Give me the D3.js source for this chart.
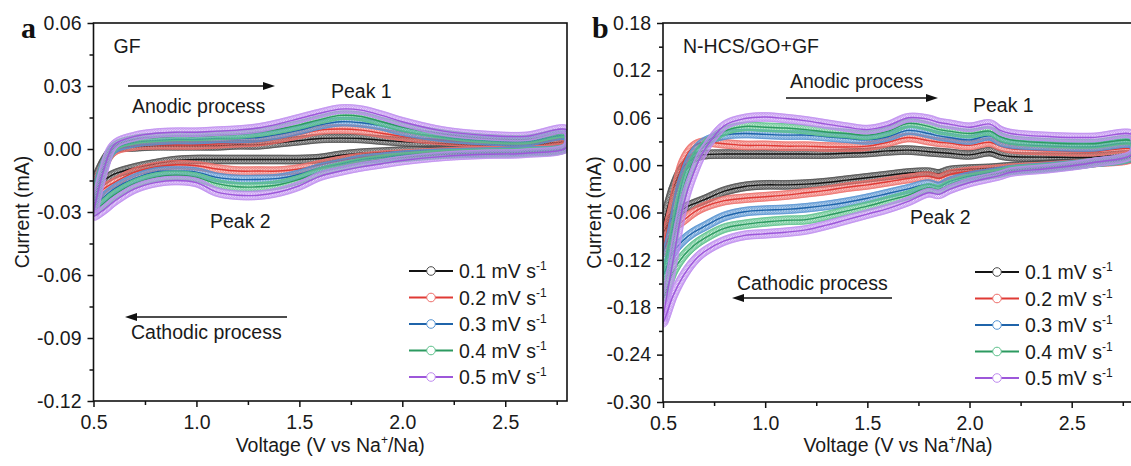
<!DOCTYPE html>
<html>
<head>
<meta charset="utf-8">
<script src="https://cdn.jsdelivr.net/npm/d3@7.9.0/dist/d3.min.js"></script>
<style>
  body { margin: 0; background: #fff; }
  svg { display: block; font-family: 'Liberation Sans', Arial, sans-serif; }
  .tick text { font-size: 19.5px; fill: #1a1a1a; }
</style>
</head>
<body>
<svg id="chart" width="1131" height="466"></svg>
<script>
// scan rates shown in both legends
const rates = ['0.1', '0.2', '0.3', '0.4', '0.5'];

// panel a (GF) - voltage grid, anodic / cathodic currents (mA) per rate
const voltsA = [0.5, 0.55, 0.6, 0.7, 0.8, 0.9, 1.0, 1.1, 1.2, 1.3, 1.4, 1.5, 1.6, 1.7, 1.8, 1.9, 2.0, 2.2, 2.4, 2.6, 2.8];
const gfAnodic = [
  [-0.019, -0.006, 0.000, 0.001, 0.0015, 0.0015, 0.0015, 0.0015, 0.002, 0.002, 0.003, 0.004, 0.005, 0.0052, 0.005, 0.0042, 0.0035, 0.0025, 0.0018, 0.0015, 0.003],
  [-0.025, -0.008, -0.001, 0.0015, 0.002, 0.002, 0.002, 0.0025, 0.003, 0.0035, 0.005, 0.007, 0.009, 0.0095, 0.009, 0.0075, 0.006, 0.004, 0.003, 0.0025, 0.004],
  [-0.027, -0.008, 0.000, 0.003, 0.004, 0.0045, 0.0045, 0.005, 0.005, 0.0055, 0.007, 0.009, 0.0115, 0.013, 0.0125, 0.011, 0.0085, 0.0055, 0.004, 0.0035, 0.006],
  [-0.029, -0.009, 0.001, 0.0045, 0.0055, 0.006, 0.006, 0.0065, 0.007, 0.008, 0.0095, 0.0115, 0.014, 0.016, 0.0155, 0.013, 0.0105, 0.007, 0.005, 0.0045, 0.007],
  [-0.031, -0.010, 0.002, 0.006, 0.0075, 0.008, 0.008, 0.0085, 0.009, 0.010, 0.012, 0.0145, 0.017, 0.019, 0.0185, 0.016, 0.013, 0.0085, 0.0065, 0.006, 0.009]
];
const gfCathodic = [
  [-0.019, -0.015, -0.012, -0.009, -0.007, -0.0055, -0.005, -0.005, -0.005, -0.005, -0.005, -0.005, -0.0045, -0.003, -0.002, -0.0015, -0.001, -0.0005, 0.0, 0.0005, 0.002],
  [-0.025, -0.019, -0.016, -0.011, -0.0085, -0.0075, -0.008, -0.0095, -0.0105, -0.0105, -0.0105, -0.0095, -0.0075, -0.0055, -0.004, -0.003, -0.0025, -0.0015, -0.001, -0.0005, 0.001],
  [-0.028, -0.023, -0.019, -0.014, -0.011, -0.0105, -0.011, -0.0135, -0.0145, -0.0145, -0.014, -0.012, -0.009, -0.007, -0.005, -0.004, -0.003, -0.002, -0.0015, -0.001, 0.001],
  [-0.030, -0.026, -0.022, -0.0165, -0.0135, -0.0125, -0.0135, -0.0165, -0.018, -0.018, -0.017, -0.0145, -0.011, -0.0085, -0.0065, -0.005, -0.004, -0.0025, -0.002, -0.0015, 0.001],
  [-0.032, -0.029, -0.025, -0.019, -0.016, -0.015, -0.016, -0.0205, -0.022, -0.022, -0.0205, -0.0175, -0.013, -0.0105, -0.0085, -0.007, -0.0055, -0.0035, -0.0025, -0.002, 0.001]
];

// panel b (N-HCS/GO+GF)
const voltsB = [0.5, 0.55, 0.6, 0.65, 0.7, 0.8, 0.9, 1.0, 1.1, 1.2, 1.3, 1.4, 1.5, 1.6, 1.7, 1.8, 1.85, 1.9, 2.0, 2.1, 2.15, 2.2, 2.4, 2.6, 2.8];
const nhcsAnodic = [
  [-0.085, -0.03, -0.002, 0.009, 0.013, 0.014, 0.014, 0.014, 0.014, 0.014, 0.014, 0.015, 0.016, 0.018, 0.019, 0.017, 0.016, 0.015, 0.013, 0.017, 0.013, 0.011, 0.010, 0.010, 0.012],
  [-0.11, -0.05, 0.005, 0.024, 0.029, 0.027, 0.025, 0.025, 0.024, 0.024, 0.023, 0.023, 0.024, 0.029, 0.035, 0.031, 0.029, 0.028, 0.025, 0.029, 0.024, 0.021, 0.018, 0.017, 0.02],
  [-0.14, -0.075, -0.015, 0.015, 0.029, 0.038, 0.040, 0.039, 0.038, 0.038, 0.036, 0.034, 0.032, 0.036, 0.044, 0.040, 0.037, 0.035, 0.032, 0.037, 0.030, 0.027, 0.024, 0.023, 0.026],
  [-0.17, -0.095, -0.03, 0.005, 0.024, 0.043, 0.049, 0.048, 0.047, 0.045, 0.042, 0.040, 0.038, 0.043, 0.053, 0.049, 0.045, 0.043, 0.040, 0.043, 0.036, 0.032, 0.028, 0.027, 0.030],
  [-0.20, -0.12, -0.05, -0.01, 0.018, 0.050, 0.059, 0.061, 0.059, 0.056, 0.052, 0.048, 0.045, 0.050, 0.060, 0.058, 0.054, 0.052, 0.048, 0.052, 0.044, 0.040, 0.036, 0.035, 0.038]
];
const nhcsCathodic = [
  [-0.085, -0.065, -0.055, -0.049, -0.044, -0.033, -0.027, -0.025, -0.025, -0.024, -0.022, -0.019, -0.016, -0.013, -0.010, -0.009, -0.011, -0.007, -0.005, -0.004, -0.003, -0.002, 0.001, 0.004, 0.010],
  [-0.11, -0.08, -0.07, -0.06, -0.053, -0.045, -0.042, -0.040, -0.038, -0.035, -0.032, -0.028, -0.025, -0.021, -0.017, -0.014, -0.017, -0.012, -0.008, -0.006, -0.005, -0.004, -0.001, 0.003, 0.010],
  [-0.14, -0.11, -0.095, -0.085, -0.078, -0.065, -0.059, -0.057, -0.056, -0.054, -0.051, -0.047, -0.042, -0.036, -0.030, -0.024, -0.027, -0.021, -0.014, -0.010, -0.008, -0.006, -0.002, 0.003, 0.012],
  [-0.17, -0.135, -0.115, -0.102, -0.093, -0.080, -0.075, -0.072, -0.070, -0.069, -0.064, -0.058, -0.052, -0.045, -0.038, -0.029, -0.031, -0.025, -0.017, -0.012, -0.010, -0.007, -0.003, 0.003, 0.013],
  [-0.20, -0.165, -0.14, -0.122, -0.110, -0.096, -0.089, -0.087, -0.085, -0.082, -0.076, -0.069, -0.062, -0.055, -0.046, -0.035, -0.037, -0.031, -0.022, -0.016, -0.013, -0.009, -0.004, 0.003, 0.015]
];

// ticks
const xTicks = [0.5, 1.0, 1.5, 2.0, 2.5];
const xMinor = [0.75, 1.25, 1.75, 2.25, 2.75];
const yTicksA = [-0.12, -0.09, -0.06, -0.03, 0, 0.03, 0.06];
const yMinorA = [-0.105, -0.075, -0.045, -0.015, 0.015, 0.045];
const yTicksB = [-0.30, -0.24, -0.18, -0.12, -0.06, 0, 0.06, 0.12, 0.18];
const yMinorB = [-0.27, -0.21, -0.15, -0.09, -0.03, 0.03, 0.09, 0.15];

const lineColors = ['#141414', '#e03a35', '#1f64aa', '#2c9a60', '#9d57da'];
const markColors = ['#4a4a4a', '#ee6e6a', '#5593d2', '#5cc18b', '#bf8cf0'];

const svg = d3.select('#chart');
const defs = svg.append('defs');

function arrow(g, x1, x2, yy) {
  const dir = x2 > x1 ? 1 : -1;
  g.append('line')
    .attr('x1', x1).attr('x2', x2 - dir * 8).attr('y1', yy).attr('y2', yy)
    .attr('stroke', '#111').attr('stroke-width', 1.5);
  g.append('path')
    .attr('d', `M${x2},${yy}L${x2 - dir * 12},${yy - 4}L${x2 - dir * 12},${yy + 4}Z`)
    .attr('fill', '#111');
}

function label(g, txt, xx, yy, size) {
  return g.append('text').attr('x', xx).attr('y', yy)
    .attr('font-size', size || 19.5).attr('fill', '#1a1a1a').text(txt);
}

function drawPanel(p) {
  const g = svg.append('g');
  const x = d3.scaleLinear().domain([0.5, 2.8]).range([p.left, p.right]);
  const y = d3.scaleLinear().domain(p.yDomain).range([p.bottom, p.top]);

  defs.append('clipPath').attr('id', 'clip-' + p.key)
    .append('rect')
    .attr('x', p.left).attr('y', p.top)
    .attr('width', p.right - p.left).attr('height', p.bottom - p.top);

  const plot = g.append('g').attr('clip-path', `url(#clip-${p.key})`);
  const line = d3.line()
    .x(d => x(d[0]))
    .y(d => y(d[1]))
    .curve(d3.curveCatmullRomClosed.alpha(0.5));

  rates.forEach((r, i) => {
    const fwd = p.volts.map((v, k) => [v, p.anodic[i][k]]);
    const back = p.volts.map((v, k) => [v, p.cathodic[i][k]]).reverse();
    const pts = fwd.concat(back).filter((d, k, arr) => {
      const n = arr[(k + 1) % arr.length];
      return !(n[0] === d[0] && n[1] === d[1]);
    });

    const sg = plot.append('g');
    const marks = sg.append('g');
    const path = sg.append('path')
      .attr('d', line(pts))
      .attr('fill', 'none')
      .attr('stroke', lineColors[i])
      .attr('stroke-width', 1.4);

    const node = path.node();
    const len = node.getTotalLength();
    marks.selectAll('circle')
      .data(d3.range(0, len, 1.6).map(s => node.getPointAtLength(s)))
      .join('circle')
      .attr('cx', d => d.x)
      .attr('cy', d => d.y)
      .attr('r', 4.4)
      .attr('fill', 'none')
      .attr('stroke', markColors[i])
      .attr('stroke-opacity', 0.8)
      .attr('stroke-width', 0.8);
  });

  // axes
  const xAxis = g.append('g').attr('transform', `translate(0,${p.bottom})`)
    .call(d3.axisBottom(x).tickValues(xTicks).tickSize(6).tickPadding(8).tickFormat(d3.format('.1f')));
  const xAxisMinor = g.append('g').attr('transform', `translate(0,${p.bottom})`)
    .call(d3.axisBottom(x).tickValues(xMinor).tickSize(4).tickFormat(''));
  const yAxis = g.append('g').attr('transform', `translate(${p.left},0)`)
    .call(d3.axisLeft(y).tickValues(p.yTicks).tickSize(6).tickPadding(6)
      .tickFormat(d => d3.format('.2f')(d).replace('\u2212', '-')));
  const yAxisMinor = g.append('g').attr('transform', `translate(${p.left},0)`)
    .call(d3.axisLeft(y).tickValues(p.yMinor).tickSize(4).tickFormat(''));
  [xAxis, xAxisMinor, yAxis, yAxisMinor].forEach(a => {
    a.select('.domain').remove();
    a.selectAll('line').attr('stroke', '#111').attr('stroke-width', 1.5);
    a.attr('font-family', null).attr('font-size', null);
  });

  g.append('rect')
    .attr('x', p.left).attr('y', p.top)
    .attr('width', p.right - p.left).attr('height', p.bottom - p.top)
    .attr('fill', 'none').attr('stroke', '#111').attr('stroke-width', 1.6);

  // axis titles
  const xt = g.append('text')
    .attr('x', (p.left + p.right) / 2).attr('y', 452)
    .attr('text-anchor', 'middle').attr('font-size', 19.5).attr('fill', '#1a1a1a');
  xt.append('tspan').text('Voltage (V vs Na');
  xt.append('tspan').attr('font-size', 12).attr('dy', -8).text('+');
  xt.append('tspan').attr('dy', 8).text('/Na)');

  g.append('text')
    .attr('transform', `translate(${p.titleX},${(p.top + p.bottom) / 2}) rotate(-90)`)
    .attr('text-anchor', 'middle').attr('dy', '0.35em')
    .attr('font-size', 19.5).attr('fill', '#1a1a1a')
    .text('Current (mA)');

  // panel letter and sample name
  label(g, p.letter, p.letterX, 38, 30)
    .attr('font-family', "'Liberation Serif', 'Times New Roman', serif")
    .attr('font-weight', 'bold').attr('fill', '#111');
  label(g, p.name, p.left + 20, 53);

  // annotations
  p.notes.forEach(n => label(g, n.t, n.x, n.y));
  p.arrows.forEach(a => arrow(g, a.x1, a.x2, a.y));

  // legend
  rates.forEach((r, i) => {
    const ly = p.legendY + i * 26.5;
    g.append('line')
      .attr('x1', p.legendX).attr('x2', p.legendX + 44)
      .attr('y1', ly).attr('y2', ly)
      .attr('stroke', lineColors[i]).attr('stroke-width', 1.8);
    g.append('circle')
      .attr('cx', p.legendX + 22).attr('cy', ly).attr('r', 4.3)
      .attr('fill', '#fff').attr('stroke', markColors[i]).attr('stroke-width', 1);
    const t = g.append('text')
      .attr('x', p.legendX + 50).attr('y', ly + 7)
      .attr('font-size', 19.5).attr('fill', '#1a1a1a');
    t.append('tspan').text(r + ' mV s');
    t.append('tspan').attr('font-size', 12).attr('dy', -8).text('-1');
  });
}

drawPanel({
  key: 'a', letter: 'a', letterX: 21, name: 'GF',
  left: 93.5, right: 567, top: 23, bottom: 401, titleX: 22,
  yDomain: [-0.12, 0.06], yTicks: yTicksA, yMinor: yMinorA,
  volts: voltsA, anodic: gfAnodic, cathodic: gfCathodic,
  legendX: 409, legendY: 271,
  notes: [
    { t: 'Anodic process', x: 132, y: 113 },
    { t: 'Peak 1', x: 331, y: 98 },
    { t: 'Peak 2', x: 210, y: 228 },
    { t: 'Cathodic process', x: 131, y: 339 }
  ],
  arrows: [
    { x1: 128, x2: 275, y: 86 },
    { x1: 287, x2: 125, y: 317 }
  ]
});

drawPanel({
  key: 'b', letter: 'b', letterX: 592, name: 'N-HCS/GO+GF',
  left: 663, right: 1133, top: 23, bottom: 402, titleX: 594,
  yDomain: [-0.30, 0.18], yTicks: yTicksB, yMinor: yMinorB,
  volts: voltsB, anodic: nhcsAnodic, cathodic: nhcsCathodic,
  legendX: 975, legendY: 272,
  notes: [
    { t: 'Anodic process', x: 790, y: 88 },
    { t: 'Peak 1', x: 973, y: 112 },
    { t: 'Peak 2', x: 910, y: 224 },
    { t: 'Cathodic process', x: 737, y: 290 }
  ],
  arrows: [
    { x1: 786, x2: 938, y: 98 },
    { x1: 892, x2: 732, y: 298 }
  ]
});
</script>
</body>
</html>
